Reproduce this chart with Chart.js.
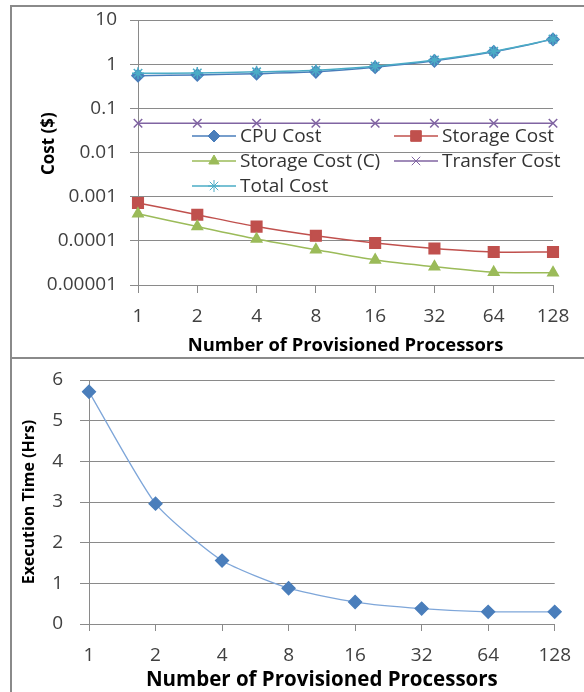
<!DOCTYPE html>
<html>
<head>
<meta charset="utf-8">
<script src="https://cdn.jsdelivr.net/npm/chart.js@4/dist/chart.umd.min.js"></script>
<style>
  body { margin: 0; background: #fff; }
  #page { position: relative; width: 584px; height: 692px; overflow: hidden; }
  .frame { position: absolute; border-left: 2px solid #8a8a8a; border-top: 2px solid #8a8a8a; }
  .holder { position: absolute; }
</style>
</head>
<body>
<div id="page">
  <div class="frame" style="left:10px; top:5px; width:580px; height:352px;"></div>
  <div class="frame" style="left:10px; top:357px; width:580px; height:340px;"></div>
  <div class="holder" style="left:12px; top:8px;"><canvas id="costChart" width="572" height="349"></canvas></div>
  <div class="holder" style="left:12px; top:360px;"><canvas id="timeChart" width="572" height="332"></canvas></div>
</div>
<script>
// processors on the x axis (both charts)
const processors = ["1", "2", "4", "8", "16", "32", "64", "128"];

// cost per run, $ (log scale)
const cpuCost = [0.55, 0.57, 0.61, 0.67, 0.85, 1.19, 1.9, 3.64];
const storageCost = [0.00072, 0.00039, 0.00021, 0.00013, 0.000089, 0.000067, 0.000056, 0.000056];
const storageCostC = [0.00041, 0.00021, 0.00011, 0.000063, 0.000037, 0.000026, 0.0000194, 0.000019];
const transferCost = [0.046, 0.046, 0.046, 0.046, 0.046, 0.046, 0.046, 0.046];
const totalCost = [0.62, 0.63, 0.67, 0.73, 0.9, 1.24, 1.95, 3.69];

// execution time, hours
const execTime = [5.71, 2.96, 1.56, 0.88, 0.54, 0.38, 0.30, 0.30];

const costTicks = [0.00001, 0.0001, 0.001, 0.01, 0.1, 1, 10];
const costTickLabels = ["0.00001", "0.0001", "0.001", "0.01", "0.1", "1", "10"];

Chart.defaults.font.family = '"Open Sans", sans-serif';
Chart.defaults.color = "#404040";
Chart.defaults.animation = false;

const gridGrey = "#8a8a8a";

// excel style legend drawn inside the plot: line + marker, then text
const insideLegend = {
  id: "insideLegend",
  afterDatasetsDraw(chart, args, opts) {
    if (!opts.show) return;
    const ctx = chart.ctx;
    const area = chart.chartArea;
    ctx.save();
    chart.data.datasets.forEach((ds, i) => {
      const col = i % 2, row = Math.floor(i / 2);
      const x0 = area.left + opts.cols[col];
      const y = area.top + opts.top + row * opts.rowGap;
      ctx.strokeStyle = ds.borderColor;
      ctx.lineWidth = ds.borderWidth;
      ctx.beginPath();
      ctx.moveTo(x0, y);
      ctx.lineTo(x0 + opts.lineLen, y);
      ctx.stroke();
      ctx.fillStyle = ds.pointBackgroundColor;
      ctx.strokeStyle = ds.pointBorderColor;
      ctx.lineWidth = 1;
      Chart.helpers.drawPoint(ctx, { pointStyle: ds.pointStyle, radius: ds.pointRadius, borderWidth: 1, rotation: 0 },
        x0 + opts.lineLen / 2, y);
      ctx.fillStyle = "#333";
      ctx.font = opts.font;
      ctx.textBaseline = "middle";
      ctx.textAlign = "left";
      ctx.fillText(ds.label, x0 + opts.lineLen + 4, y + 1);
    });
    ctx.restore();
  }
};

function series(label, data, color, style, radius, order) {
  return {
    label: label,
    data: data,
    order: order,
    borderColor: color,
    backgroundColor: color,
    pointBackgroundColor: color,
    pointBorderColor: color,
    pointStyle: style,
    pointRadius: radius,
    borderWidth: 1.5,
    tension: 0.25
  };
}

new Chart(document.getElementById("costChart"), {
  type: "line",
  data: {
    labels: processors,
    datasets: [
      series("CPU Cost", cpuCost, "#4a7ebb", "rectRot", 6, 4),
      series("Storage Cost", storageCost, "#c0504d", "rect", 7.5, 3),
      series("Storage Cost (C)", storageCostC, "#9bbb59", "triangle", 6, 2),
      series("Transfer Cost", transferCost, "#8064a2", "crossRot", 6, 1),
      series("Total Cost", totalCost, "#4bacc6", "star", 6, 0)
    ]
  },
  options: {
    responsive: false,
    devicePixelRatio: 1,
    layout: { padding: { top: 12, right: 31, left: 0, bottom: 0 } },
    plugins: {
      legend: { display: false },
      tooltip: { enabled: false },
      insideLegend: {
        show: true, cols: [54, 256], top: 116, rowGap: 25, lineLen: 44,
        font: '19px "Open Sans", sans-serif'
      }
    },
    scales: {
      x: {
        type: "category",
        offset: false,
        grid: { drawOnChartArea: false, drawTicks: true, tickLength: 8, color: gridGrey },
        border: { color: gridGrey },
        ticks: { font: { size: 19 }, padding: 12, maxRotation: 0, autoSkip: false },
        title: {
          display: true, text: "Number of Provisioned Processors", color: "#000",
          font: { size: 18.4, weight: "bold" }, padding: { top: 2, bottom: 0 }
        },
        afterFit: (s) => { s.height = 72; }
      },
      y: {
        type: "logarithmic",
        min: 0.00001,
        max: 10,
        afterBuildTicks: (s) => { s.ticks = costTicks.map((v) => ({ value: v })); },
        grid: { color: gridGrey, drawTicks: true, tickLength: 8 },
        border: { color: gridGrey },
        ticks: {
          font: { size: 19 }, padding: 13,
          callback: (v, i) => costTickLabels[i]
        },
        title: {
          display: true, text: "\u00a0\u00a0\u00a0\u00a0Cost ($)", color: "#000",
          font: { size: 17, weight: "bold" }, padding: { top: 27, bottom: 0 }
        },
        afterFit: (s) => { s.width = 126; s.paddingTop = 0; s.paddingBottom = 0; }
      }
    }
  },
  plugins: [insideLegend]
});

new Chart(document.getElementById("timeChart"), {
  type: "line",
  data: {
    labels: processors,
    datasets: [{
      label: "Execution Time",
      data: execTime,
      borderColor: "#7ea6d9",
      borderWidth: 1.3,
      pointStyle: "rectRot",
      pointRadius: 6.5,
      pointBackgroundColor: "#4a7ebb",
      pointBorderColor: "#4a7ebb",
      tension: 0.2
    }]
  },
  options: {
    responsive: false,
    devicePixelRatio: 1,
    layout: { padding: { top: 20, right: 29, left: 0, bottom: 0 } },
    plugins: { legend: { display: false }, tooltip: { enabled: false } },
    scales: {
      x: {
        type: "category",
        offset: false,
        grid: { drawOnChartArea: false, drawTicks: true, tickLength: 7, color: gridGrey },
        border: { color: gridGrey },
        ticks: { font: { size: 19 }, padding: 13, maxRotation: 0, autoSkip: false },
        title: {
          display: true, text: "Number of Provisioned Processors", color: "#000",
          font: { size: 20.5, weight: "bold" }, padding: { top: -3, bottom: 0 }
        },
        afterFit: (s) => { s.height = 68; }
      },
      y: {
        min: 0,
        max: 6,
        grid: { color: gridGrey, drawTicks: true, tickLength: 9 },
        border: { color: gridGrey },
        ticks: { stepSize: 1, font: { size: 19 }, padding: 17 },
        title: {
          display: true, text: "Execution Time (Hrs)", color: "#000",
          font: { size: 16, weight: "bold" }, padding: { top: 8, bottom: 0 }
        },
        afterFit: (s) => { s.width = 77; s.paddingTop = 0; s.paddingBottom = 0; }
      }
    }
  }
});
</script>
</body>
</html>
